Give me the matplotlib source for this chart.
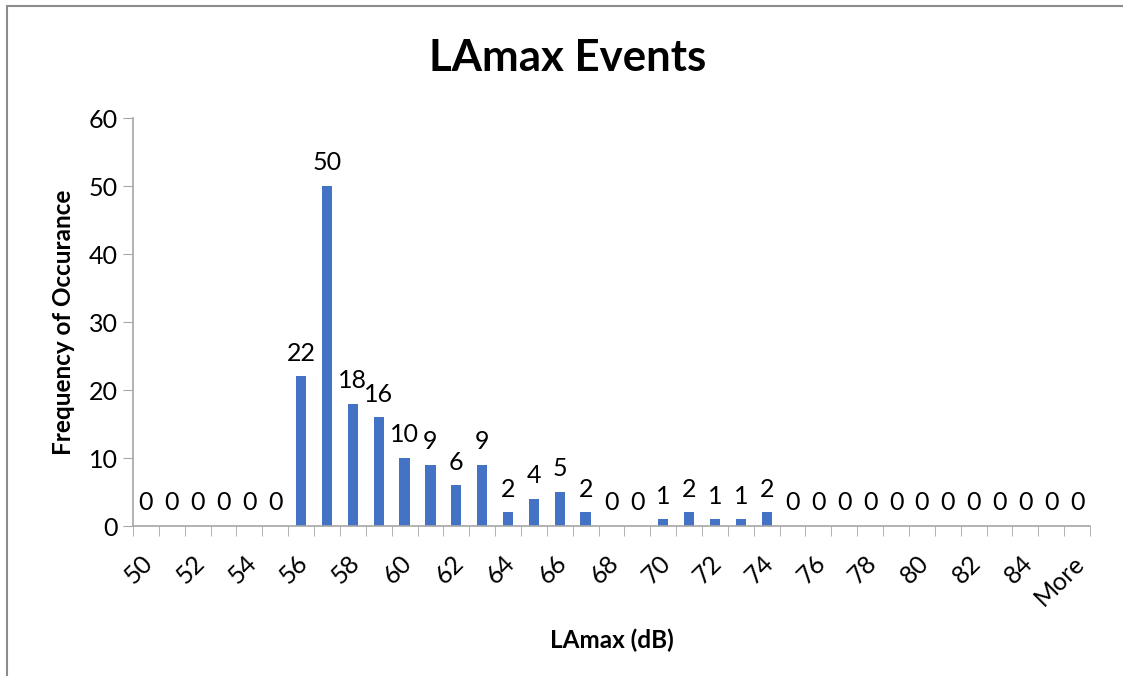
import matplotlib.pyplot as plt
import numpy as np
from matplotlib.transforms import ScaledTranslation

# bins and counts
bins = [str(b) for b in range(50, 86)] + ["More"]
counts = [0, 0, 0, 0, 0, 0, 22, 50, 18, 16, 10, 9, 6, 9, 2, 4, 5, 2,
          0, 0, 1, 2, 1, 1, 2, 0, 0, 0, 0, 0, 0, 0, 0, 0, 0, 0, 0]
yticks = [0, 10, 20, 30, 40, 50, 60]

plt.rcParams['font.family'] = ['Lato', 'DejaVu Sans']

fig = plt.figure(figsize=(11.23, 6.76), dpi=100)
ax = fig.add_axes([133/1123, 1-526/676, (1090-133)/1123, (526-118)/676])

# chart border
fig.patches.append(plt.Rectangle((7/1123, -0.01), 1.1, 1-6/676+0.01,
                                 transform=fig.transFigure, fill=False,
                                 edgecolor='#8c8c8c', linewidth=1.5))

x = np.arange(len(bins))
bars = ax.bar(x, counts, width=0.4, color='#4472C4', zorder=2)
for xi, c in zip(x, counts):
    ax.text(xi, c + 1.7, str(c), ha='center', va='bottom', fontsize=18)

ax.set_xlim(-0.5, len(bins) - 0.5)
ax.set_ylim(0, 60)
ax.set_yticks(yticks)
ax.tick_params(axis='y', labelsize=18, length=7, color='#a6a6a6', direction='out', pad=4)

ax.set_xticks(x[::2])
ax.set_xticklabels(bins[::2], rotation=45, ha='right', rotation_mode='anchor', fontsize=18)
ax.set_xticks(np.arange(-0.5, len(bins), 1), minor=True)
ax.tick_params(axis='x', which='major', length=0, pad=18)
ax.tick_params(axis='x', which='minor', length=7, color='#a6a6a6')
shift = ScaledTranslation(-5/100, 0, fig.dpi_scale_trans)
for lbl in ax.get_xticklabels():
    lbl.set_transform(lbl.get_transform() + shift)

for s in ['top', 'right']:
    ax.spines[s].set_visible(False)
for s in ['left', 'bottom']:
    ax.spines[s].set_color('#a6a6a6')
    ax.spines[s].set_linewidth(1.2)

ax.set_ylabel('Frequency of Occurance', fontsize=17.5, fontweight='bold', labelpad=10)
ax.set_xlabel('LAmax (dB)', fontsize=17.5, fontweight='bold', labelpad=14)
fig.text(568/1123, 1-58/676, 'LAmax Events', ha='center', va='center',
         fontsize=31.5, fontweight='bold')

plt.savefig('out.png', dpi=100)
